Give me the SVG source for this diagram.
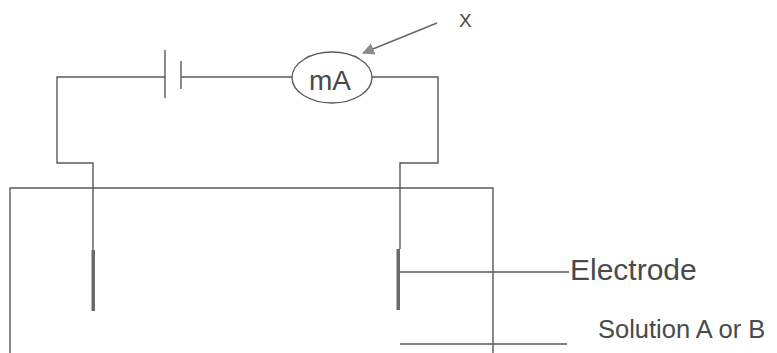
<svg xmlns="http://www.w3.org/2000/svg" width="777" height="353" viewBox="0 0 777 353">
<style>
.w{fill:none;stroke:#5a5a5a;stroke-width:1.4}
.t{font-family:"Liberation Sans",Arial,sans-serif;fill:#4a4a4a}
.el{fill:#6a6a6a;stroke:none}
</style>
<defs>
<marker id="ah" markerWidth="12" markerHeight="12" refX="11" refY="6" orient="auto" markerUnits="userSpaceOnUse" viewBox="0 0 12 12">
<path d="M0,0 L12,6 L0,12 z" fill="#8a8a8a"/>
</marker>
</defs>
<rect width="777" height="353" fill="#fff"/>
<g id="container">
<path class="w" d="M10,353 V188 H493 V353"/>
</g>
<g id="connectors">
<path class="w" d="M165,77 H57 V163 H93 V250"/>
<path class="w" d="M181,77 H292"/>
<path class="w" d="M372,77 H438 V163 H400 V249"/>
<line class="w" x1="400" y1="272" x2="569" y2="272"/>
<line class="w" x1="400" y1="344" x2="567" y2="344"/>
<line x1="437" y1="23" x2="363" y2="53" stroke="#666" stroke-width="1.6" marker-end="url(#ah)"/>
</g>
<g id="battery">
<line class="w" x1="165" y1="50" x2="165" y2="98"/>
<line class="w" x1="181" y1="61" x2="181" y2="89"/>
</g>
<g id="ammeter">
<ellipse class="w" cx="332" cy="77.5" rx="40" ry="25.5"/>
<text class="t" x="330" y="90" font-size="28" text-anchor="middle">mA</text>
</g>
<g id="label-x">
<text class="t" x="459" y="27" font-size="19">X</text>
</g>
<g id="electrode-left">
<rect class="el" x="91.5" y="250" width="3.5" height="61"/>
</g>
<g id="electrode-right">
<rect class="el" x="396.5" y="249" width="3.5" height="61"/>
</g>
<g id="label-electrode">
<text class="t" x="570" y="280" font-size="30">Electrode</text>
</g>
<g id="label-solution">
<text class="t" x="598" y="338" font-size="25.5">Solution A or B</text>
</g>
</svg>
